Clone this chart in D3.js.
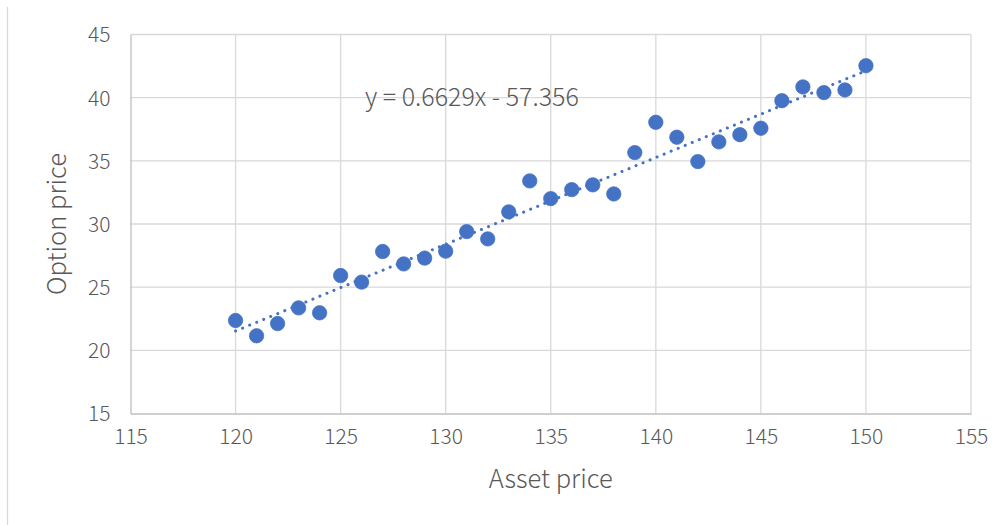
<!DOCTYPE html>
<html>
<head>
<meta charset="utf-8">
<script src="https://cdn.jsdelivr.net/npm/d3@7"></script>
<style>
  html, body { margin: 0; padding: 0; background: #fff; }
  svg { display: block; }
  text { font-family: "Noto Sans CJK SC", "Noto Sans", sans-serif; fill: #595959; }
</style>
</head>
<body>
<svg id="chart" width="1008" height="525"></svg>
<script>
// Asset price vs option price observations
const assetPrices = [120, 121, 122, 123, 124, 125, 126, 127, 128, 129, 130,
                     131, 132, 133, 134, 135, 136, 137, 138, 139, 140,
                     141, 142, 143, 144, 145, 146, 147, 148, 149, 150];
const optionPrices = [22.36, 21.15, 22.12, 23.36, 22.97, 25.92, 25.40, 27.82, 26.84, 27.30, 27.85,
                      29.40, 28.82, 30.96, 33.41, 32.01, 32.72, 33.10, 32.38, 35.65, 38.05,
                      36.87, 34.94, 36.50, 37.07, 37.58, 39.76, 40.85, 40.40, 40.61, 42.53];
const xTicks = [115, 120, 125, 130, 135, 140, 145, 150, 155];
const yTicks = [15, 20, 25, 30, 35, 40, 45];
const xDomain = [115, 155];
const yDomain = [15, 45];
const xTitle = "Asset price";
const yTitle = "Option price";
const equationLabel = "y = 0.6629x - 57.356";

const svg = d3.select("#chart");
const plot = { left: 130.5, right: 971, top: 34.5, bottom: 413.5 };

const x = d3.scaleLinear().domain(xDomain).range([plot.left, plot.right]);
const y = d3.scaleLinear().domain(yDomain).range([plot.bottom, plot.top]);

// chart frame edge
svg.append("line")
  .attr("x1", 7.5).attr("x2", 7.5).attr("y1", 7).attr("y2", 525)
  .attr("stroke", "#d9d9d9").attr("stroke-width", 1.3);

// gridlines
const grid = svg.append("g");
grid.selectAll("line.h").data(yTicks.filter(d => d !== yDomain[0])).join("line")
  .attr("x1", plot.left).attr("x2", plot.right)
  .attr("y1", d => y(d)).attr("y2", d => y(d))
  .attr("stroke", "#d9d9d9").attr("stroke-width", 1.3);
grid.selectAll("line.v").data(xTicks.filter(d => d !== xDomain[0])).join("line")
  .attr("y1", plot.top).attr("y2", plot.bottom)
  .attr("x1", d => x(d)).attr("x2", d => x(d))
  .attr("stroke", "#d9d9d9").attr("stroke-width", 1.3);

// axes
const xAxis = svg.append("g")
  .attr("transform", `translate(0,${plot.bottom})`)
  .call(d3.axisBottom(x).tickValues(xTicks).tickSize(0).tickPadding(16));
const yAxis = svg.append("g")
  .attr("transform", `translate(${plot.left},0)`)
  .call(d3.axisLeft(y).tickValues(yTicks).tickSize(0).tickPadding(20));
[xAxis, yAxis].forEach(g => {
  g.select(".domain").attr("stroke", "#bfbfbf").attr("stroke-width", 1.3);
  g.selectAll("text")
    .style("font-family", '"Noto Sans CJK SC", "Noto Sans", sans-serif')
    .style("font-size", "21px").style("font-weight", 300).attr("fill", "#595959");
});
xAxis.selectAll("text").attr("dy", "0.71em");
yAxis.selectAll("text").attr("dy", "0.35em");

// markers
svg.append("g").selectAll("circle")
  .data(assetPrices.map((a, i) => [a, optionPrices[i]]))
  .join("circle")
  .attr("cx", d => x(d[0])).attr("cy", d => y(d[1]))
  .attr("r", 7.2)
  .attr("fill", "#4472c4").attr("stroke", "#4472c4").attr("stroke-width", 0.75);

// least-squares trendline over the observations
const mx = d3.mean(assetPrices), my = d3.mean(optionPrices);
let sxy = 0, sxx = 0;
assetPrices.forEach((a, i) => { sxy += (a - mx) * (optionPrices[i] - my); sxx += (a - mx) * (a - mx); });
const slope = sxy / sxx, intercept = my - slope * mx;
const x0 = d3.min(assetPrices), x1 = d3.max(assetPrices);
svg.append("line")
  .attr("x1", x(x0)).attr("y1", y(slope * x0 + intercept))
  .attr("x2", x(x1)).attr("y2", y(slope * x1 + intercept))
  .attr("stroke", "#4472c4").attr("stroke-width", 3)
  .attr("stroke-linecap", "round").attr("stroke-dasharray", "0.1 7.5");

// trendline equation
svg.append("text")
  .attr("x", 365).attr("y", 106)
  .style("font-size", "25px").style("font-weight", 300)
  .text(equationLabel);

// axis titles
svg.append("text")
  .attr("x", (plot.left + plot.right) / 2).attr("y", 488)
  .attr("text-anchor", "middle")
  .style("font-size", "25.5px").style("font-weight", 300)
  .text(xTitle);
svg.append("text")
  .attr("transform", `translate(66,${(plot.top + plot.bottom) / 2}) rotate(-90)`)
  .attr("text-anchor", "middle")
  .style("font-size", "25.5px").style("font-weight", 300)
  .text(yTitle);
</script>
</body>
</html>
